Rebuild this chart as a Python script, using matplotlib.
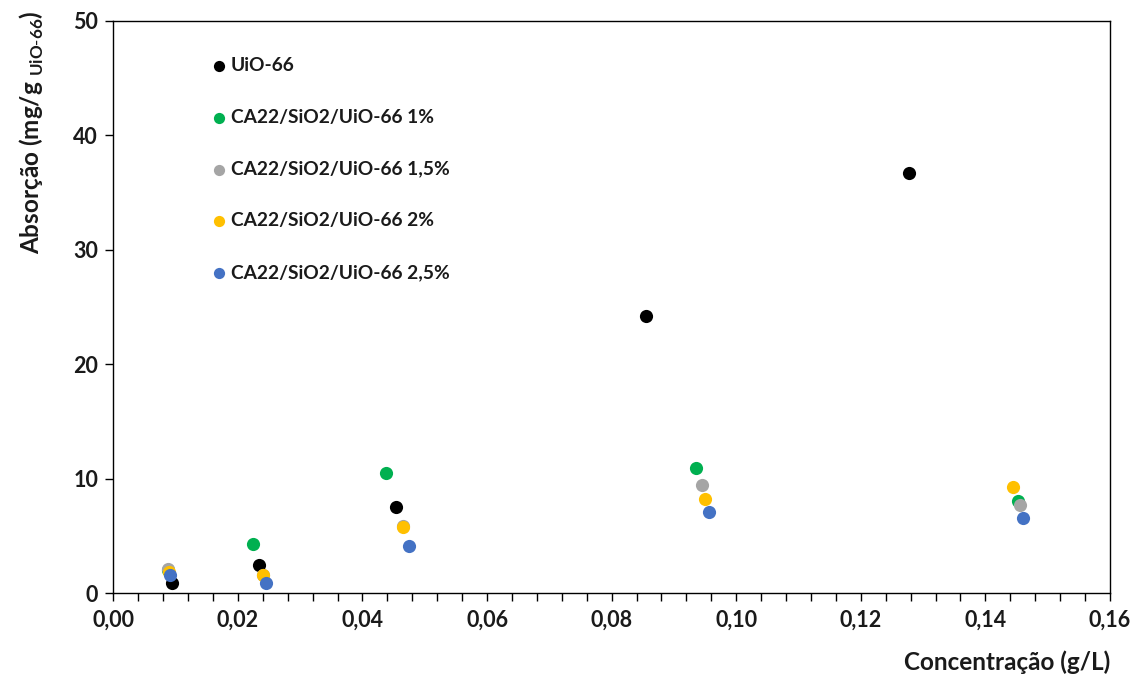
import matplotlib
matplotlib.use("Agg")
import matplotlib.pyplot as plt
from matplotlib.ticker import MultipleLocator, FuncFormatter

plt.rcParams['font.family'] = ['Lato', 'DejaVu Sans']
plt.rcParams['mathtext.fontset'] = 'custom'
plt.rcParams['mathtext.rm'] = 'Lato'

series_names = ["UiO-66", "CA22/SiO2/UiO-66 1%", "CA22/SiO2/UiO-66 1,5%",
                "CA22/SiO2/UiO-66 2%", "CA22/SiO2/UiO-66 2,5%"]
colors = ["#000000", "#00B050", "#A5A5A5", "#FFC000", "#4472C4"]

x_uio = [0.0094, 0.0234, 0.0454, 0.0855, 0.1277]
y_uio = [0.85, 2.44, 7.50, 24.2, 36.7]
x_1 = [0.0088, 0.0224, 0.0438, 0.0936, 0.1453]
y_1 = [2.00, 4.28, 10.5, 10.9, 8.07]
x_15 = [0.0088, 0.0241, 0.0465, 0.0945, 0.1455]
y_15 = [2.07, 1.60, 5.82, 9.45, 7.70]
x_2 = [0.0089, 0.0241, 0.0465, 0.0950, 0.1444]
y_2 = [1.83, 1.57, 5.80, 8.18, 9.30]
x_25 = [0.0091, 0.0245, 0.0475, 0.0957, 0.1461]
y_25 = [1.57, 0.85, 4.13, 7.10, 6.55]

xs = [x_uio, x_1, x_15, x_2, x_25]
ys = [y_uio, y_1, y_15, y_2, y_25]

fig = plt.figure(figsize=(11.33, 6.77), dpi=100)
ax = fig.add_axes([0.1, 0.124, 0.8797, 0.8457])

for xv, yv, c, n in zip(xs, ys, colors, series_names):
    ax.scatter(xv, yv, s=90, color=c, label=n, linewidths=0, zorder=3)

ax.set_xlim(0, 0.16)
ax.set_ylim(0, 50)
ax.xaxis.set_major_locator(MultipleLocator(0.02))
ax.xaxis.set_minor_locator(MultipleLocator(0.004))
ax.yaxis.set_major_locator(MultipleLocator(10))
ax.xaxis.set_major_formatter(FuncFormatter(lambda v, p: f"{v:.2f}".replace('.', ',')))
ax.yaxis.set_major_formatter(FuncFormatter(lambda v, p: f"{v:.0f}"))

ax.tick_params(axis='both', which='both', direction='out', color='black', width=1, length=6)
ax.tick_params(axis='x', which='major', pad=6)
ax.tick_params(axis='y', which='major', pad=5)
for lbl in ax.get_xticklabels() + ax.get_yticklabels():
    lbl.set_fontweight('bold')
    lbl.set_fontsize(15.5)
    lbl.set_color('#1a1a1a')

for sp in ax.spines.values():
    sp.set_color('black')
    sp.set_linewidth(1)

ax.set_ylabel(r"Absorção (mg/g $_{\mathregular{UiO\text{-}66}}$)", fontsize=17.5,
              fontweight='bold', color='#1a1a1a')
ax.yaxis.set_label_coords(-0.068, 0.805)
ax.set_xlabel("Concentração (g/L)", fontsize=17.5, fontweight='bold', color='#1a1a1a',
              ha='right')
ax.xaxis.set_label_coords(1.0, -0.1)

leg = ax.legend(loc='upper left', bbox_to_anchor=(0.087, 0.95), frameon=False,
                handletextpad=0.0, labelspacing=1.82, markerscale=0.85,
                prop={'weight': 'bold', 'size': 13.8}, borderaxespad=0,
                handlelength=1.2)
for t in leg.get_texts():
    t.set_color('#1a1a1a')

fig.savefig("out.png", dpi=100)
